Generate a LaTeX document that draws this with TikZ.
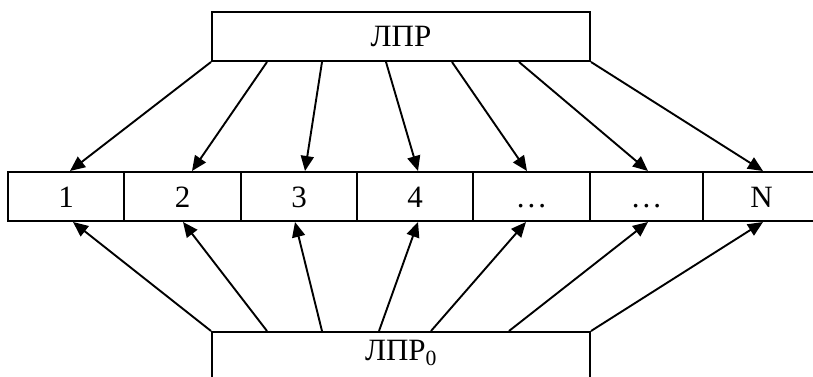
\documentclass[tikz,border=0pt]{standalone}
\usepackage{fontspec}
\setmainfont{Liberation Serif}
\usetikzlibrary{arrows.meta}
\begin{document}
\begin{tikzpicture}[x=1pt,y=-1pt,
  box/.style={draw,line width=2pt,inner sep=0pt,font=\fontsize{31}{34}\selectfont},
  cell/.style={box,minimum height=49pt,text height=21pt,text depth=0pt},
  arr/.style={line width=1.9pt,-{Triangle[length=15pt,width=13pt]}}]
\useasboundingbox (0,0) rectangle (813,377);
\clip (0,0) rectangle (813,377);
\node[box,minimum width=378pt,minimum height=49pt] (top) at (401,36.5) {ЛПР};
\node[box,minimum width=378pt,minimum height=46pt] (bot) at (401,355) {};
\node[font=\fontsize{31}{34}\selectfont] (botlabel) at (401,353) {ЛПР\textsubscript{0}};
\node[cell,minimum width=116pt] (c1) at (66,196.5) {1};
\node[cell,minimum width=117pt] (c2) at (182.5,196.5) {2};
\node[cell,minimum width=116pt] (c3) at (299,196.5) {3};
\node[cell,minimum width=116pt] (c4) at (415,196.5) {4};
\node[cell,minimum width=117pt] (c5) at (531.5,196.5) {.\kern3pt.\kern3pt.};
\node[cell,minimum width=113pt] (c6) at (646.5,196.5) {.\kern3pt.\kern3pt.};
\node[cell,minimum width=117pt] (c7) at (761.5,196.5) {N};
% top arrows
\draw[arr] ([xshift=0pt]top.south west) -- ([xshift=4pt]c1.north);
\draw[arr] ([xshift=56pt]top.south west) -- ([xshift=9.5pt]c2.north);
\draw[arr] ([xshift=111pt]top.south west) -- ([xshift=6pt]c3.north);
\draw[arr] ([xshift=175pt]top.south west) -- ([xshift=3pt]c4.north);
\draw[arr] ([xshift=241pt]top.south west) -- ([xshift=-4.5pt]c5.north);
\draw[arr] ([xshift=308pt]top.south west) -- ([xshift=1.5pt]c6.north);
\draw[arr] ([xshift=0pt]top.south east) -- ([xshift=1.5pt]c7.north);
% bottom arrows
\draw[arr] ([xshift=0pt]bot.north west) -- ([xshift=7pt]c1.south);
\draw[arr] ([xshift=56pt]bot.north west) -- ([xshift=0.5pt]c2.south);
\draw[arr] ([xshift=111pt]bot.north west) -- ([xshift=-4pt]c3.south);
\draw[arr] ([xshift=168pt]bot.north west) -- ([xshift=3pt]c4.south);
\draw[arr] ([xshift=220pt]bot.north west) -- ([xshift=-5.5pt]c5.south);
\draw[arr] ([xshift=298pt]bot.north west) -- ([xshift=1.5pt]c6.south);
\draw[arr] ([xshift=0pt]bot.north east) -- ([xshift=1.5pt]c7.south);
\end{tikzpicture}
\end{document}
